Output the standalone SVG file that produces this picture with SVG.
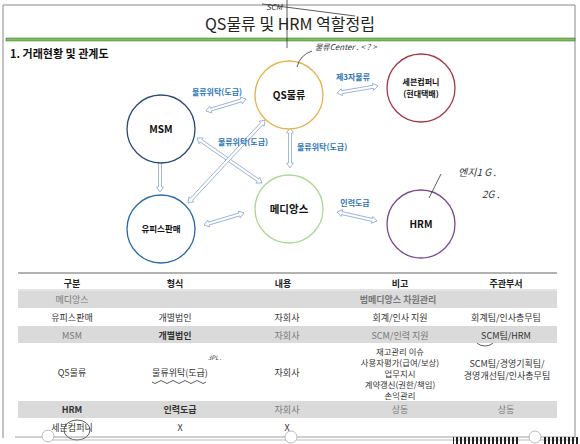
<svg xmlns="http://www.w3.org/2000/svg" width="580" height="444" viewBox="0 0 580 444">
<defs>
<style>
text{font-family:"Noto Sans CJK KR","Liberation Sans",sans-serif}
.node{fill:#fff;stroke-width:1.3}
.nl{font-weight:bold;font-size:10px;fill:#111;text-anchor:middle}
.arr{fill:#fff;stroke:#8ea8d2;stroke-width:0.8}
.al{font-weight:bold;font-size:8px;fill:#2e75b6}
.th{font-weight:bold;font-size:9px;fill:#222;text-anchor:middle}
.td{font-size:9px;fill:#333;text-anchor:middle}
.tg{font-size:9px;fill:#777;text-anchor:middle}
.hand{font-size:8px;fill:#333;font-style:italic}
.pen{fill:none;stroke:#333;stroke-width:0.8}
.shade{fill:#dadada}
</style>
<pattern id="bc" width="4" height="6" patternUnits="userSpaceOnUse"><rect width="2" height="6" fill="#222"/></pattern>
</defs>
<rect width="580" height="444" fill="#fff"/>
<path d="M3 438 V5 H575 V438" fill="none" stroke="#888" stroke-width="1"/>
<text x="290" y="30" font-size="16" fill="#222" text-anchor="middle">QS물류 및 HRM 역할정립</text>
<rect x="6" y="38" width="569" height="3" fill="#7dc05c" stroke="#3d6a2a" stroke-width="0.5"/>
<text x="10" y="58" font-size="11" font-weight="bold" fill="#111">1. 거래현황 및 관계도</text>

<g id="connectors">
<g transform="translate(206,111) rotate(-16.7)"><polygon class="arr" points="0,0 5,-3.5 5,-1.5 36.8,-1.5 36.8,-3.5 41.8,0 36.8,3.5 36.8,1.5 5,1.5 5,3.5"/></g>
<g transform="translate(337,93) rotate(-9.7)"><polygon class="arr" points="0,0 5,-3.5 5,-1.5 36.6,-1.5 36.6,-3.5 41.6,0 36.6,3.5 36.6,1.5 5,1.5 5,3.5"/></g>
<g transform="translate(290,128) rotate(90)"><polygon class="arr" points="0,0 5,-3.5 5,-1.5 35,-1.5 35,-3.5 40,0 35,3.5 35,1.5 5,1.5 5,3.5"/></g>
<g transform="translate(197,138) rotate(34.7)"><polygon class="arr" points="0,0 5,-3.5 5,-1.5 74,-1.5 74,-3.5 79,0 74,3.5 74,1.5 5,1.5 5,3.5"/></g>
<g transform="translate(188,203) rotate(-47.1)"><polygon class="arr" points="0,0 5,-3.5 5,-1.5 108.2,-1.5 108.2,-3.5 113.2,0 108.2,3.5 108.2,1.5 5,1.5 5,3.5"/></g>
<g transform="translate(160,157) rotate(90)"><polygon class="arr" points="0,0 5,-3.5 5,-1.5 30,-1.5 30,-3.5 35,0 30,3.5 30,1.5 5,1.5 5,3.5"/></g>
<g transform="translate(204,225) rotate(-16.7)"><polygon class="arr" points="0,0 5,-3.5 5,-1.5 36.8,-1.5 36.8,-3.5 41.8,0 36.8,3.5 36.8,1.5 5,1.5 5,3.5"/></g>
<g transform="translate(337,212) rotate(12.7)"><polygon class="arr" points="0,0 5,-3.5 5,-1.5 36,-1.5 36,-3.5 41,0 36,3.5 36,1.5 5,1.5 5,3.5"/></g>
<text class="al" x="217" y="95" text-anchor="middle">물류위탁(도급)</text>
<text class="al" x="353" y="80" text-anchor="middle">제3자물류</text>
<text class="al" x="297" y="150">물류위탁(도급)</text>
<text class="al" x="243" y="145" text-anchor="middle">물류위탁(도급)</text>
<text class="al" x="355" y="206" text-anchor="middle">인력도급</text>
</g>

<g id="qs"><circle class="node" cx="289" cy="95" r="34" stroke="#e8b24c"/><text class="nl" x="289" y="99">QS물류</text></g>
<g id="seven"><circle class="node" cx="421" cy="88" r="34" stroke="#a33a48"/><text class="nl" x="421" y="85" style="font-size:8px">세븐컴퍼니</text><text class="nl" x="421" y="97" style="font-size:8px">(현대택배)</text></g>
<g id="msm"><circle class="node" cx="161" cy="129" r="34" stroke="#2b4a78"/><text class="nl" x="161" y="133">MSM</text></g>
<g id="upis"><circle class="node" cx="161" cy="229" r="34" stroke="#2a6aa6"/><text class="nl" x="161" y="232" style="font-size:8.5px">유피스판매</text></g>
<g id="medi"><circle class="node" cx="289" cy="209" r="34" stroke="#a9d992"/><text class="nl" x="289" y="213" style="font-size:10.5px">메디앙스</text></g>
<g id="hrm"><circle class="node" cx="421" cy="224" r="34" stroke="#7a4a8c"/><text class="nl" x="421" y="228">HRM</text></g>

<g id="handwriting">
<path class="pen" d="M287 0 V48"/>
<path class="pen" d="M262 4 L355 16"/>
<text class="hand" x="266" y="10">SCM</text>
<path class="pen" d="M297 67 Q300 55 312 51"/>
<text class="hand" x="315" y="50">물류Center . &lt; ? &gt;</text>
<path class="pen" d="M441 174 L429 198"/>
<text class="hand" x="458" y="176" style="font-size:10px">엔지1 G .</text>
<text class="hand" x="482" y="198" style="font-size:10px">2G .</text>
<text class="hand" x="208" y="360" style="font-size:6px">3PL .</text>
<path class="pen" d="M152 382 q3 3 6 0 t6 0 t6 0 t6 0 t6 0 t6 0 t6 0 t6 0 t6 0"/>
<ellipse class="pen" cx="485" cy="337" rx="11" ry="9"/>
<ellipse class="pen" cx="77" cy="430" rx="13" ry="10" stroke-width="0.5"/>
</g>

<g id="table">
<line x1="18" y1="273" x2="557" y2="273" stroke="#999" stroke-width="1.5"/>
<text class="th" x="72" y="287">구분</text>
<text class="th" x="175" y="287">형식</text>
<text class="th" x="283" y="287">내용</text>
<text class="th" x="400" y="287">비고</text>
<text class="th" x="506" y="287">주관부서</text>
<line x1="18" y1="290" x2="557" y2="290" stroke="#bbb" stroke-width="0.8"/>
<rect class="shade" x="18" y="291" width="539" height="17"/>
<rect class="shade" x="18" y="326" width="539" height="17"/>
<rect class="shade" x="18" y="401" width="539" height="17"/>
<text class="tg" x="72" y="303">메디앙스</text>
<text class="tg" x="398" y="303" font-weight="bold">범메디앙스 차원관리</text>
<text class="td" x="72" y="321">유피스판매</text>
<text class="td" x="175" y="321">개별법인</text>
<text class="td" x="287" y="321">자회사</text>
<text class="td" x="400" y="321">회계/인사 지원</text>
<text class="td" x="506" y="321">회계팀/인사총무팀</text>
<text class="tg" x="72" y="339">MSM</text>
<text class="td" x="175" y="339" font-weight="bold">개별법인</text>
<text class="tg" x="287" y="339">자회사</text>
<text class="tg" x="400" y="339">SCM/인력 지원</text>
<text class="td" x="506" y="339">SCM팀/HRM</text>
<text class="td" x="72" y="376">QS물류</text>
<text class="td" x="180" y="376">물류위탁(도급)</text>
<text class="td" x="287" y="376">자회사</text>
<text class="td" x="400" y="355" style="font-size:8.4px">재고관리 이슈</text>
<text class="td" x="400" y="366" style="font-size:8.4px">사용자평가(급여/보상)</text>
<text class="td" x="400" y="377" style="font-size:8.4px">업무지시</text>
<text class="td" x="400" y="388" style="font-size:8.4px">계약갱신(권한/책임)</text>
<text class="td" x="400" y="399" style="font-size:8.4px">손익관리</text>
<text class="td" x="507" y="367">SCM팀/경영기획팀/</text>
<text class="td" x="507" y="379">경영개선팀/인사총무팀</text>
<text class="td" x="72" y="413" font-weight="bold">HRM</text>
<text class="td" x="180" y="413" font-weight="bold">인력도급</text>
<text class="tg" x="287" y="413">자회사</text>
<text class="tg" x="400" y="413">상동</text>
<text class="tg" x="506" y="413">상동</text>
<text class="td" x="72" y="431">세븐컴퍼니</text>
<text class="td" x="180" y="431">X</text>
<text class="td" x="287" y="431">X</text>
</g>

<g id="bottom">
<line x1="15" y1="437" x2="575" y2="437" stroke="#888" stroke-width="0.8"/>
<line x1="50" y1="440" x2="575" y2="440" stroke="#aaa" stroke-width="0.8"/>
<circle cx="48" cy="436" r="6" fill="#fff" stroke="#aaa" stroke-width="0.8"/>
<circle cx="291" cy="437" r="6" fill="#fff" stroke="#aaa" stroke-width="0.8"/>
<circle cx="535" cy="437" r="6" fill="#fff" stroke="#aaa" stroke-width="0.8"/>
<rect x="453" y="437" width="67" height="7" fill="url(#bc)"/>
<rect x="543" y="437" width="37" height="7" fill="url(#bc)"/>
</g>
</svg>
